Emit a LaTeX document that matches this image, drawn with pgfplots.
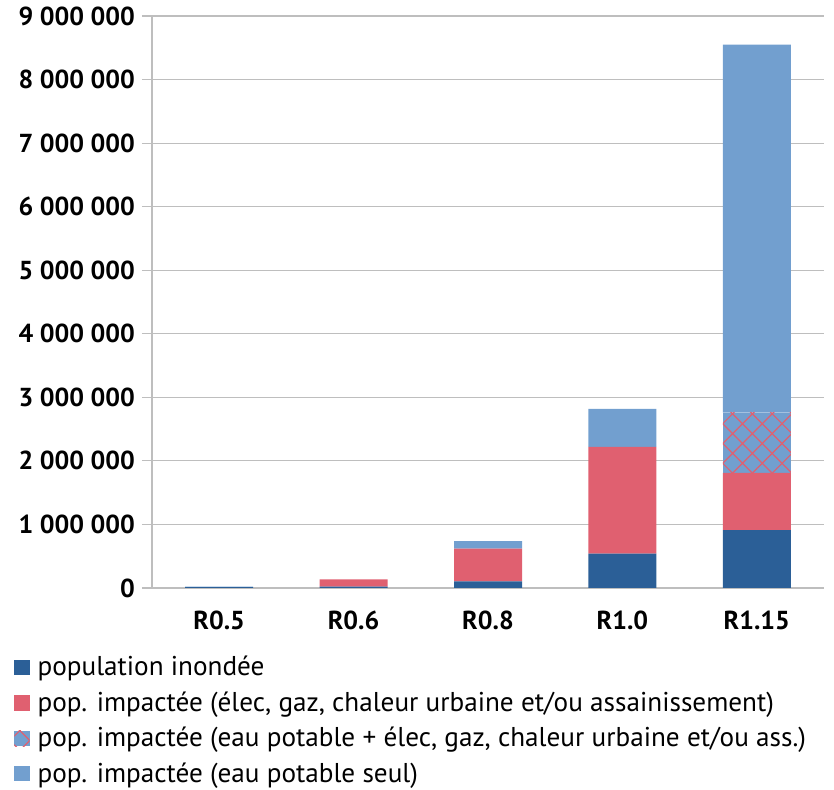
\documentclass[border=0pt]{standalone}
\usepackage{pgfplots}
\pgfplotsset{compat=1.18}
\usepackage{fontspec}
\setmainfont{PT Sans}
\usetikzlibrary{patterns.meta}
\definecolor{cDark}{RGB}{43,95,151}
\definecolor{cRed}{RGB}{224,96,112}
\definecolor{cLight}{RGB}{114,159,207}
\definecolor{cGrid}{RGB}{190,190,190}
\begin{document}
\begin{tikzpicture}
\begin{axis}[
  scale only axis,
  width=336pt, height=286pt,
  ybar stacked, bar width=34pt,
  xmin=-0.5, xmax=4.5, ymin=0, ymax=9000000,
  xtick={0,1,2,3,4},
  xticklabels={R0.5,R0.6,R0.8,R1.0,R1.15},
  major x tick style={draw=none},
  extra x ticks={0.5,1.5,2.5,3.5,4.5},
  extra x tick labels={},
  extra x tick style={grid=none, major tick length=5pt, tick align=outside, major tick style={draw=cGrid, line width=0.6pt}},
  ytick={0,1000000,...,9000000},
  scaled y ticks=false,
  /pgf/number format/.cd, fixed, 1000 sep={\ }, assume math mode=true,
  /pgfplots/.cd,
  ymajorgrids, grid style={cGrid, line width=0.6pt},
  major y tick style={draw=cGrid, line width=0.6pt},
  tick align=outside, major tick length=5pt,
  axis x line*=bottom, axis y line*=left,
  axis line style={cGrid, line width=0.6pt},
  tick label style={font=\fontsize{13}{15}\selectfont\bfseries, text=black},
  xticklabel style={yshift=-3pt},
  legend cell align=left,
  legend style={at={(0,0)}, anchor=north west, xshift=-70pt, yshift=-31pt, draw=none, fill=none,
    font=\fontsize{13.6}{16}\selectfont, row sep=2.4pt, inner sep=1pt,
    nodes={inner xsep=4pt}},
  legend image code/.code={\path[#1] (0pt,-3.8pt) rectangle (7.6pt,3.8pt);},
]
\addplot[fill=cDark, draw=none] coordinates {(0,15000) (1,20000) (2,105000) (3,540000) (4,910000)};
\addplot[fill=cRed, draw=none] coordinates {(0,0) (1,115000) (2,513000) (3,1680000) (4,900000)};
\addplot[fill=cLight, draw=none, postaction={pattern={Hatch[angle=45,distance=7pt,line width=0.6pt]}, pattern color=cRed}] coordinates {(0,0) (1,0) (2,0) (3,0) (4,950000)};
\addplot[fill=cLight, draw=none] coordinates {(0,5000) (1,0) (2,121000) (3,600000) (4,5790000)};
\legend{{population inondée},
  {pop. impactée (élec, gaz, chaleur urbaine et/ou assainissement)},
  {pop. impactée (eau potable + élec, gaz, chaleur urbaine et/ou ass.)},
  {pop. impactée (eau potable seul)}}
\end{axis}
\pgfresetboundingbox
\path[use as bounding box] ([xshift=-76pt,yshift=-101pt]current axis.south west) rectangle ([xshift=341pt,yshift=294pt]current axis.south west);
\end{tikzpicture}
\end{document}
